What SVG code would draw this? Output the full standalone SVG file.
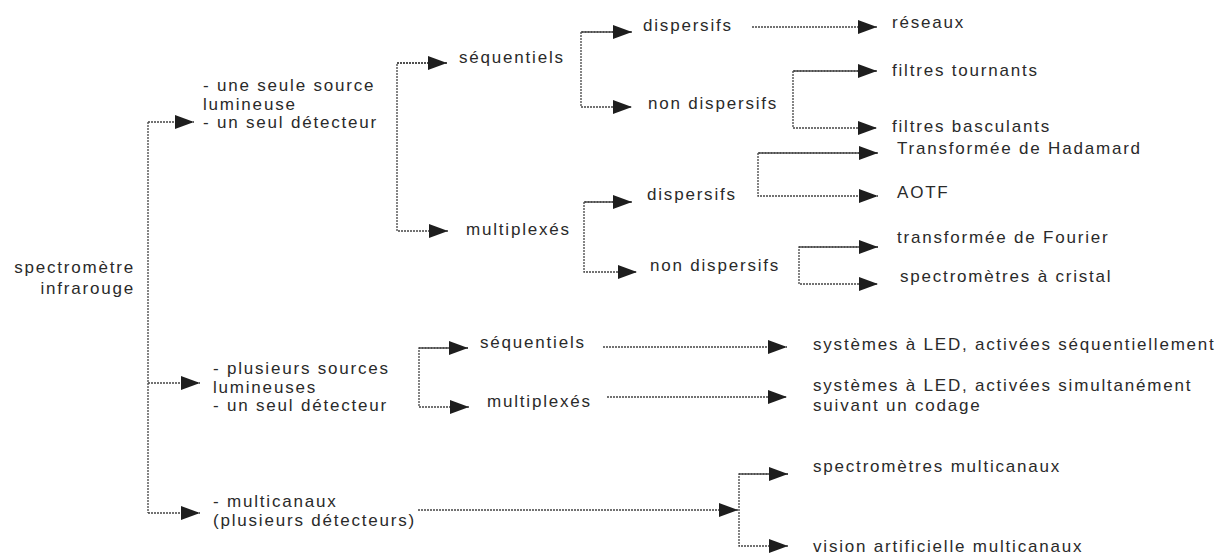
<svg xmlns="http://www.w3.org/2000/svg" width="1227" height="554" viewBox="0 0 1227 554">
<style>
text{font-family:"Liberation Sans",Arial,sans-serif;font-size:17px;letter-spacing:1.8px;fill:#2a2a2a}
.c path{fill:none;stroke:#444;stroke-width:1.3;stroke-dasharray:2 1}
</style>
<defs>
<marker id="ah" markerUnits="userSpaceOnUse" markerWidth="20" markerHeight="14" refX="19" refY="7" orient="auto">
<path d="M0,0 L19,7 L0,14 z" fill="#1e1e1e"/>
</marker>
</defs>
<rect width="1227" height="554" fill="#fff"/>
<g class="c" id="connectors">
<path d="M148,122 V513"/>
<path d="M148,122 H194" marker-end="url(#ah)"/>
<path d="M148,383 H200" marker-end="url(#ah)"/>
<path d="M148,513 H200" marker-end="url(#ah)"/>
<path d="M447,63 H397 V231 H448" marker-end="url(#ah)"/>
<path d="M397,63 H447" marker-end="url(#ah)"/>
<path d="M632,32 H581 V107 H632" marker-end="url(#ah)"/>
<path d="M581,32 H632" marker-end="url(#ah)"/>
<path d="M752,27 H877" marker-end="url(#ah)"/>
<path d="M877,71 H793 V128 H877" marker-end="url(#ah)"/>
<path d="M793,71 H877" marker-end="url(#ah)"/>
<path d="M632,202 H584 V272 H637" marker-end="url(#ah)"/>
<path d="M584,202 H632" marker-end="url(#ah)"/>
<path d="M878,153 H758 V196 H878" marker-end="url(#ah)"/>
<path d="M758,153 H878" marker-end="url(#ah)"/>
<path d="M878,247 H799 V284 H878" marker-end="url(#ah)"/>
<path d="M799,247 H878" marker-end="url(#ah)"/>
<path d="M468,348 H419 V407 H469" marker-end="url(#ah)"/>
<path d="M419,348 H468" marker-end="url(#ah)"/>
<path d="M603,347 H787" marker-end="url(#ah)"/>
<path d="M607,397 H787" marker-end="url(#ah)"/>
<path d="M418,510 H738" marker-end="url(#ah)"/>
<path d="M788,474 H739 V546 H788" marker-end="url(#ah)"/>
<path d="M739,474 H788" marker-end="url(#ah)"/>
</g>
<g id="root"><text x="135" y="273" text-anchor="end">spectromètre</text><text x="135" y="294" text-anchor="end">infrarouge</text></g>
<g id="n-une-source"><text x="203" y="91">- une seule source</text><text x="203" y="109.5">lumineuse</text><text x="203" y="128">- un seul détecteur</text></g>
<g id="n-seq1"><text x="459" y="63">séquentiels</text></g>
<g id="n-mult1"><text x="466" y="235">multiplexés</text></g>
<g id="n-disp1"><text x="643" y="31">dispersifs</text></g>
<g id="n-nondisp1"><text x="648" y="109">non dispersifs</text></g>
<g id="n-reseaux"><text x="892" y="28">réseaux</text></g>
<g id="n-filtres-t"><text x="892" y="76">filtres tournants</text></g>
<g id="n-filtres-b"><text x="892" y="132">filtres basculants</text></g>
<g id="n-hadamard"><text x="897" y="154">Transformée de Hadamard</text></g>
<g id="n-aotf"><text x="897" y="198">AOTF</text></g>
<g id="n-disp2"><text x="647" y="200">dispersifs</text></g>
<g id="n-nondisp2"><text x="650" y="271">non dispersifs</text></g>
<g id="n-fourier"><text x="897" y="243">transformée de Fourier</text></g>
<g id="n-cristal"><text x="900" y="282">spectromètres à cristal</text></g>
<g id="n-plusieurs"><text x="213" y="374">- plusieurs sources</text><text x="213" y="392.5">lumineuses</text><text x="213" y="411">- un seul détecteur</text></g>
<g id="n-seq2"><text x="480" y="348">séquentiels</text></g>
<g id="n-mult2"><text x="487" y="407">multiplexés</text></g>
<g id="n-led-seq"><text x="813" y="350">systèmes à LED, activées séquentiellement</text></g>
<g id="n-led-sim"><text x="813" y="391">systèmes à LED, activées simultanément</text><text x="813" y="411">suivant un codage</text></g>
<g id="n-multicanaux"><text x="213" y="507">- multicanaux</text><text x="213" y="526">(plusieurs détecteurs)</text></g>
<g id="n-spectro-multi"><text x="813" y="472">spectromètres multicanaux</text></g>
<g id="n-vision"><text x="813" y="552">vision artificielle multicanaux</text></g>
</svg>
